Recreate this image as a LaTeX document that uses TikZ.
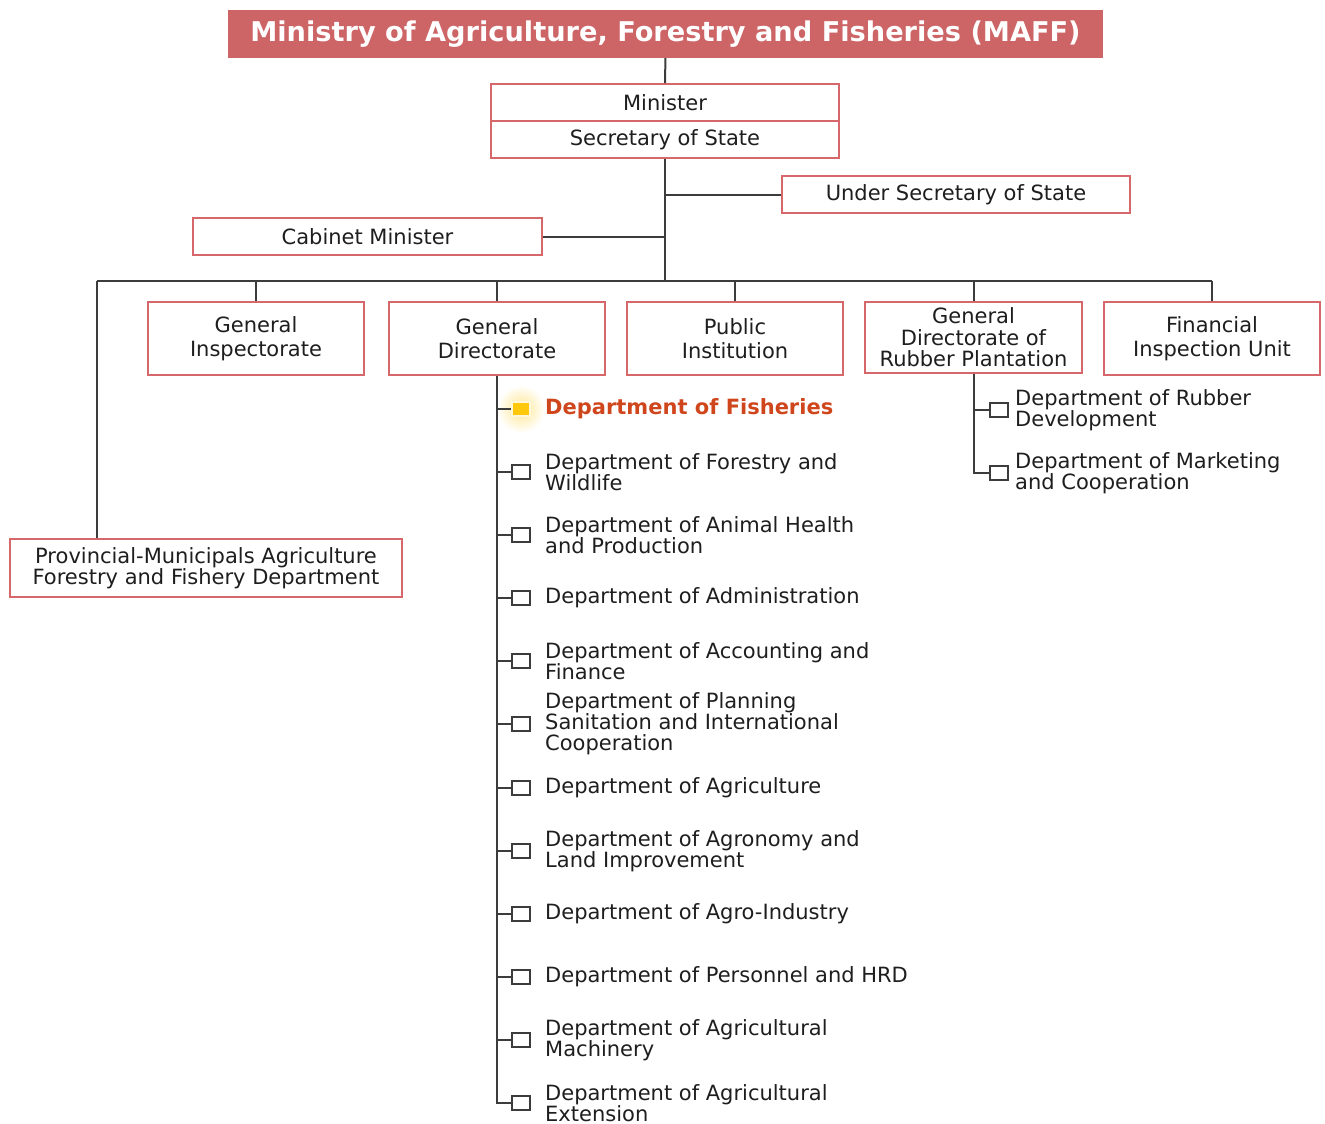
\documentclass[tikz,border=0pt]{standalone}
\usepackage{fontspec}
\setmainfont{DejaVu Sans}
\usetikzlibrary{positioning}

\definecolor{maffred}{RGB}{205,100,102}
\definecolor{boxline}{RGB}{214,104,108}
\definecolor{wirecol}{RGB}{60,60,60}
\definecolor{txt}{RGB}{30,30,30}
\definecolor{fishred}{RGB}{208,70,28}
\definecolor{fishyellow}{RGB}{255,200,10}

\tikzset{
  orgbox/.style={draw=boxline, line width=1.8pt, fill=white, text=txt, font=\fontsize{21}{24}\selectfont, align=center, inner sep=0pt, minimum height=37pt},
  deptmark/.style={draw=wirecol, line width=1.1pt, fill=white, minimum width=18pt, minimum height=14pt, inner sep=0pt},
  depttext/.style={anchor=west, text=txt, font=\fontsize{21}{21}\selectfont, align=left, inner sep=0pt},
  link/.style={draw=wirecol, line width=2pt},
}

\begin{document}
\begin{tikzpicture}[x=1pt, y=-1pt]
\useasboundingbox (0,0) rectangle (1325,1124);

% top of the tree
\node[fill=maffred, text=white, font=\fontsize{27.2}{30}\bfseries\selectfont, minimum width=875pt, minimum height=48pt, inner sep=0pt] (maff) at (665.5,34) {Ministry of Agriculture, Forestry and Fisheries (MAFF)};
\node[orgbox, minimum width=348pt] (minister) at (665,102.5) {Minister};
\node[orgbox, minimum width=348pt] (secretary) at (665,139.5) {Secretary of State};
\node[orgbox, minimum width=348pt] (undersec) at (956,194.5) {Under Secretary of State};
\node[orgbox, minimum width=349pt] (cabinet) at (367.5,236.5) {Cabinet Minister};

% second row
\node[orgbox, minimum width=216pt, minimum height=73pt] (geninsp) at (256,338.5) {General\\Inspectorate};
\node[orgbox, minimum width=216pt, minimum height=73pt] (gendir) at (497,338.5) {General\\Directorate};
\node[orgbox, minimum width=216pt, minimum height=73pt] (public) at (735,338.5) {Public\\Institution};
\node[orgbox, minimum width=217pt, minimum height=71pt, font=\fontsize{21}{21.5}\selectfont] (rubber) at (973.5,337.5) {General\\Directorate of\\Rubber Plantation};
\node[orgbox, minimum width=216pt, minimum height=73pt] (fininsp) at (1212,338.5) {Financial\\Inspection Unit};
\node[orgbox, minimum width=392pt, minimum height=58pt, font=\fontsize{21}{21}\selectfont] (province) at (206,568) {Provincial-Municipals Agriculture\\Forestry and Fishery Department};

\coordinate (busL) at (97,281);
\coordinate (busR) at (fininsp.north |- busL);

\draw[link] (maff) -- (minister);
\draw[link] (secretary.south) -- (secretary.south |- busL);
\draw[link] (undersec.west) -- (undersec.west -| secretary.south);
\draw[link] (cabinet.east) -- (cabinet.east -| secretary.south);
\draw[link] (busL) -- (busR);
\draw[link] (busL) -- (busL |- province.north);
\foreach \n in {geninsp,gendir,public,rubber,fininsp}
  \draw[link] (\n.north |- busL) -- (\n.north);

% departments under the General Directorate
\shade[inner color=fishyellow!45, outer color=white] (521,409) circle (24);
\node[deptmark, fill=fishyellow, draw=white!85!fishyellow] (d1) at (521,409) {};
\node[depttext, text=fishred, font=\fontsize{21}{21}\bfseries\selectfont] (t1) at (545,409) {Department of Fisheries};
\foreach \i/\y/\t in {2/472/{Department of Forestry and\\Wildlife},
  3/535/{Department of Animal Health\\and Production},
  4/598/{Department of Administration},
  5/661/{Department of Accounting and\\Finance},
  6/724/{Department of Planning\\Sanitation and International\\Cooperation},
  7/788/{Department of Agriculture},
  8/851/{Department of Agronomy and\\Land Improvement},
  9/914/{Department of Agro-Industry},
  10/977/{Department of Personnel and HRD},
  11/1040/{Department of Agricultural\\Machinery},
  12/1103/{Department of Agricultural\\Extension}}{
  \node[deptmark] (d\i) at (521,\y) {};
  \node[depttext] (t\i) at (545,\y) {\t};
}
\draw[link] (gendir.south) -- (gendir.south |- d12.west) -- (d12.west);
\foreach \i in {1,...,11}
  \draw[link] (gendir.south |- d\i.west) -- (d\i.west);

% departments under the Rubber Plantation directorate
\node[deptmark] (r1) at (999,410) {};
\node[depttext] (s1) at (1015,410) {Department of Rubber\\Development};
\node[deptmark] (r2) at (999,473) {};
\node[depttext] (s2) at (1015,473) {Department of Marketing\\and Cooperation};
\draw[link] (rubber.south) -- (rubber.south |- r2.west) -- (r2.west);
\draw[link] (rubber.south |- r1.west) -- (r1.west);
\end{tikzpicture}
\end{document}
